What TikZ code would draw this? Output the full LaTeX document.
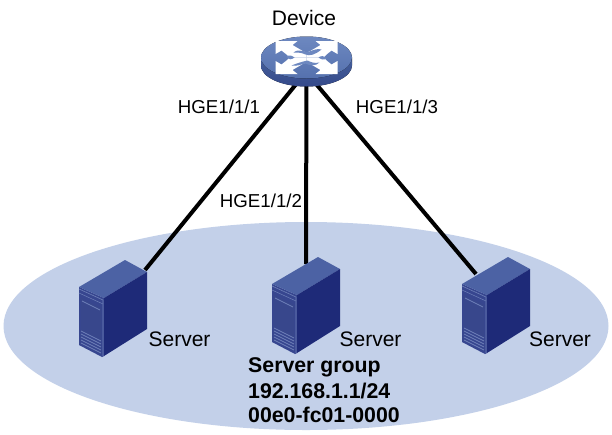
\documentclass[tikz,border=0pt]{standalone}
\usepackage{fontspec}
\setmainfont{Liberation Sans}
\definecolor{grp}{HTML}{C3D0E9}
\definecolor{srvtop}{HTML}{4C62A4}
\definecolor{srvfront}{HTML}{37468F}
\definecolor{srvside}{HTML}{1E2A78}
\definecolor{srvpanel}{HTML}{38478C}
\definecolor{srvedge}{HTML}{6E80B8}
\definecolor{devtopa}{HTML}{6D88C0}
\definecolor{devtopb}{HTML}{5571AE}
\definecolor{devsidea}{HTML}{46609C}
\definecolor{devsideb}{HTML}{34498A}
\tikzset{
  x=1pt,y=-1pt,
  lbl/.style={font=\fontsize{21}{25}\selectfont,inner sep=0pt,text=black,anchor=base},
  portlbl/.style={font=\fontsize{18.7}{22}\selectfont,inner sep=0pt,text=black,anchor=base},
  boldlbl/.style={font=\fontsize{21.3}{25}\selectfont\bfseries,inner sep=0pt,text=black,anchor=base west},
  link/.style={line width=4pt,black},
  pics/serverbox/.style={code={
    \fill[srvfront] (-46,27)--(-21,38)--(-21,96)--(-23,97)--(-46,85)--cycle;
    \fill[srvtop] (-46,27)--(0,0)--(22,12)--(-21,38)--cycle;
    \fill[srvside] (-21,38)--(22,12)--(22,69)--(-21,96)--cycle;
    \draw[srvedge,line width=.6pt] (-46,29)--(-22,40)--(-22,96);
    \draw[srvedge,line width=.5pt] (-46,33)--(-22,44);
    \fill[srvpanel] (-44,38)--(-24,48)--(-24,80)--(-44,70)--cycle;
    \draw[srvedge,line width=.7pt] (-43,41)--(-25,50);
    \foreach \k in {0,3,...,12}{\draw[srvedge,line width=.8pt] (-44,71+\k)--(-24,81+\k);}
  }},
  pics/devicebox/.style={code={
    \fill[bottom color=devsideb,top color=devsidea] (-45.5,0) -- (-45.5,8) arc[start angle=180,end angle=0,x radius=45.5,y radius=21] -- (45.5,0) -- cycle;
    \fill[top color=devtopa,bottom color=devtopb] (0,0) ellipse[x radius=45.5,y radius=21];
    \foreach \sx/\sy in {1/1,-1/1,1/-1,-1/-1}{
      \fill[white,xscale=\sx,yscale=\sy] (-31,-16.5)--(-9,-16.5)--(-14,-12.5)--(-3,-6)--(0,-5)--(0,0)--(-17,0)--(-20,-3)--(-25,-7)--(-31,-3.5)--cycle;
    }
    \fill[devtopa] (-13,-5) .. controls (-7,-10) and (-1,-4) .. (3,-6) .. controls (8,-8) and (11,-9) .. (15,-8) .. controls (9,-3) and (3,-1) .. (-1,-3) .. controls (-5,-5) and (-9,-5) .. (-13,-5) -- cycle;
    \fill[devtopa] (-15,8) .. controls (-10,6) and (-4,4) .. (1,3) .. controls (5,5) and (8,6) .. (13,5) .. controls (9,9) and (3,8) .. (-1,6) .. controls (-6,7) and (-10,9) .. (-15,8) -- cycle;
    \fill[devtopa] (-20,-1) .. controls (-17,-3) and (-15,-2) .. (-12,0) .. controls (-15,2) and (-17,3) .. (-20,-1) -- cycle;
    \fill[devtopa] (20,1) .. controls (17,-2) and (15,-2) .. (12,0) .. controls (15,2) and (17,3) .. (20,1) -- cycle;
  }}
}
\begin{document}
\begin{tikzpicture}
\useasboundingbox (0,0) rectangle (612,434);
\fill[white] (0,0) rectangle (612,434);
\fill[grp] (306,326) ellipse[x radius=302.5,y radius=104];
\coordinate (dev) at (306.5,57.5);
\coordinate (hub) at (306,72);
\coordinate (s1) at (125,260);
\coordinate (s2) at (318,257);
\coordinate (s3) at (508,257);
\coordinate (c1) at (145,270);
\coordinate (c2) at (306,264);
\coordinate (c3) at (476,274);
\draw[link] (hub) -- (c1);
\draw[link] (dev) -- (c2);
\draw[link] (hub) -- (c3);
\pic at (dev) {devicebox};
\pic at (s1) {serverbox};
\pic at (s2) {serverbox};
\pic at (s3) {serverbox};
\node[lbl] (ldev) at (304,25) {Device};
\node[portlbl] (l1) at (219,113) {HGE1/1/1};
\node[portlbl] (l2) at (261,207) {HGE1/1/2};
\node[portlbl] (l3) at (397,113) {HGE1/1/3};
\node[lbl] (n1) at (179.5,346) {Server};
\node[lbl] (n2) at (370.5,346) {Server};
\node[lbl] (n3) at (560,346) {Server};
\node[boldlbl] (g1) at (248,372) {Server group};
\node[boldlbl] (g2) at (248,398) {192.168.1.1/24};
\node[boldlbl] (g3) at (248,422) {00e0-fc01-0000};
\end{tikzpicture}
\end{document}
